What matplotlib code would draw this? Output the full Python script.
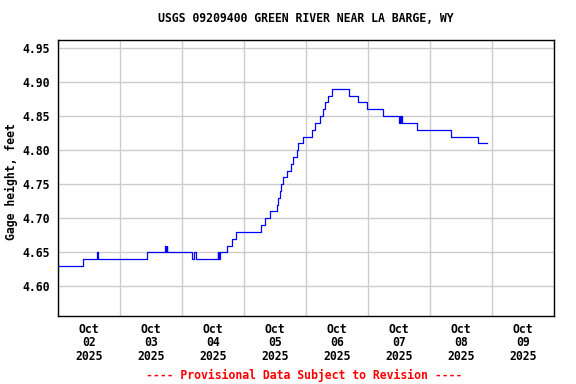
import matplotlib
matplotlib.use("Agg")
import matplotlib.pyplot as plt
import matplotlib.dates as mdates
import pandas as pd

title = "USGS 09209400 GREEN RIVER NEAR LA BARGE, WY"
ylabel = "Gage height, feet"
footer = "---- Provisional Data Subject to Revision ----"

times = [
    "2025-10-02 00:00", "2025-10-02 09:30", "2025-10-02 15:15", "2025-10-02 15:30",
    "2025-10-03 10:30", "2025-10-03 17:30", "2025-10-03 17:45", "2025-10-03 18:00",
    "2025-10-03 18:15", "2025-10-04 03:45", "2025-10-04 04:30", "2025-10-04 05:15",
    "2025-10-04 13:45", "2025-10-04 14:00", "2025-10-04 14:15", "2025-10-04 14:30",
    "2025-10-04 14:45", "2025-10-04 17:30", "2025-10-04 19:15", "2025-10-04 20:45",
    "2025-10-05 06:45", "2025-10-05 08:15", "2025-10-05 10:15", "2025-10-05 12:45",
    "2025-10-05 13:15", "2025-10-05 14:00", "2025-10-05 14:30", "2025-10-05 15:00",
    "2025-10-05 16:30", "2025-10-05 18:00", "2025-10-05 19:00", "2025-10-05 20:30",
    "2025-10-05 21:00", "2025-10-05 23:00", "2025-10-06 02:15", "2025-10-06 03:30",
    "2025-10-06 05:30", "2025-10-06 06:30", "2025-10-06 07:30", "2025-10-06 08:30",
    "2025-10-06 10:15", "2025-10-06 16:30", "2025-10-06 20:00", "2025-10-06 23:45",
    "2025-10-07 05:45", "2025-10-07 12:00", "2025-10-07 12:15", "2025-10-07 12:30",
    "2025-10-07 12:45", "2025-10-07 13:00", "2025-10-07 19:00", "2025-10-08 08:00",
    "2025-10-08 18:45", "2025-10-08 22:15",
]
heights = [
    4.63, 4.64, 4.65, 4.64,
    4.65, 4.66, 4.65, 4.66,
    4.65, 4.64, 4.65, 4.64,
    4.65, 4.64, 4.65, 4.64,
    4.65, 4.66, 4.67, 4.68,
    4.69, 4.70, 4.71, 4.72,
    4.73, 4.74, 4.75, 4.76,
    4.77, 4.78, 4.79, 4.80,
    4.81, 4.82, 4.83, 4.84,
    4.85, 4.86, 4.87, 4.88,
    4.89, 4.88, 4.87, 4.86,
    4.85, 4.84, 4.85, 4.84,
    4.85, 4.84, 4.83, 4.82,
    4.81, 4.81,
]
y_ticks = [4.60, 4.65, 4.70, 4.75, 4.80, 4.85, 4.90, 4.95]
day_labels = ["Oct\n02\n2025", "Oct\n03\n2025", "Oct\n04\n2025", "Oct\n05\n2025",
              "Oct\n06\n2025", "Oct\n07\n2025", "Oct\n08\n2025", "Oct\n09\n2025"]
x_start = "2025-10-02 00:00"
x_end = "2025-10-10 00:00"

t = pd.to_datetime(times)
FONT = "DejaVu Sans Mono"
FS = 8.3

fig = plt.figure(figsize=(5.76, 3.84), dpi=100)
ax = fig.add_axes([58 / 576, 1 - 316 / 384, 496 / 576, (316 - 39.5) / 384])

ax.plot(t, heights, drawstyle="steps-post", color="#0000ff", lw=0.9, zorder=3)

ax.set_xlim(pd.Timestamp(x_start), pd.Timestamp(x_end))
ax.set_ylim(4.5565, 4.9625)

# gridlines at midnight, labels at noon
midnights = pd.date_range(x_start, x_end, freq="D")
noons = pd.date_range("2025-10-02 12:00", periods=len(day_labels), freq="D")
ax.set_xticks(midnights)
ax.set_xticklabels([])
ax.set_xticks(noons, minor=True)
ax.set_xticklabels(day_labels, minor=True, fontfamily=FONT, fontweight="bold",
                   fontsize=FS, linespacing=1.05)
ax.tick_params(axis="x", which="both", length=0)
ax.tick_params(axis="x", which="minor", pad=5)

ax.set_yticks(y_ticks)
ax.set_yticklabels([f"{v:.2f}" for v in y_ticks], fontfamily=FONT,
                   fontweight="bold", fontsize=FS)
ax.tick_params(axis="y", length=0, pad=6)

ax.grid(True, which="major", color="#cccccc", lw=1.0, zorder=1)
for s in ax.spines.values():
    s.set_color("black")
    s.set_linewidth(1.0)
    s.set_zorder(4)

fig.text(306 / 576, 1 - 19 / 384, title, ha="center", va="center",
         fontfamily=FONT, fontweight="bold", fontsize=FS)
fig.text(11 / 576, 1 - 182 / 384, ylabel, ha="center", va="center", rotation=90,
         fontfamily=FONT, fontweight="bold", fontsize=FS)
fig.text(304 / 576, 1 - 375 / 384, footer, ha="center", va="center", color="#ff0000",
         fontfamily=FONT, fontweight="bold", fontsize=FS)

fig.savefig("out.png", dpi=100)
